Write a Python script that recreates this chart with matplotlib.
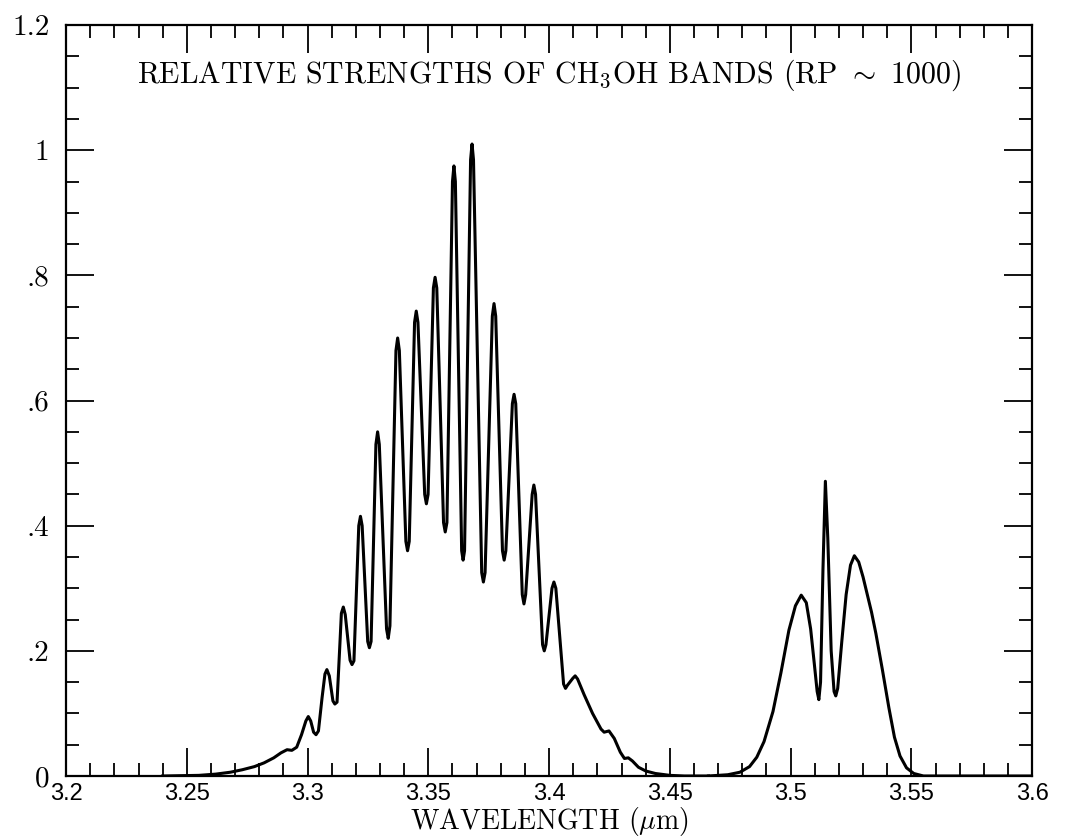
import matplotlib
matplotlib.use("Agg")
import matplotlib.pyplot as plt
from matplotlib.ticker import MultipleLocator

plt.rcParams["mathtext.fontset"] = "cm"
plt.rcParams["axes.formatter.use_mathtext"] = True

# CH3OH band profile (wavelength in um, relative strength)
wave_main = [3.240, 3.255, 3.262, 3.268, 3.273, 3.278, 3.282, 3.286, 3.289, 3.2915,
             3.2935, 3.2955, 3.2975, 3.2993, 3.3003, 3.3013, 3.3025, 3.3035, 3.3045, 3.3060,
             3.3072, 3.3080, 3.3090, 3.3105, 3.3113, 3.3122, 3.3135, 3.3140, 3.3148, 3.3156,
             3.3176, 3.3184, 3.3192, 3.3212, 3.3219, 3.3226, 3.3249, 3.3256, 3.3263, 3.3283,
             3.3290, 3.3297, 3.3327, 3.3334, 3.3341, 3.3366, 3.3373, 3.3380, 3.3407, 3.3414,
             3.3421, 3.3443, 3.3450, 3.3457, 3.3485, 3.3492, 3.3499, 3.3521, 3.3528, 3.3535,
             3.3563, 3.3570, 3.3577, 3.3600, 3.3606, 3.3612, 3.3638, 3.3644, 3.3650, 3.3675,
             3.3681, 3.3687, 3.3721, 3.3728, 3.3735, 3.3765, 3.3772, 3.3779, 3.3807, 3.3814,
             3.3821, 3.3848, 3.3855, 3.3862, 3.3889, 3.3896, 3.3903, 3.3930, 3.3937, 3.3944,
             3.3973, 3.3980, 3.3987, 3.4012, 3.4020, 3.4028, 3.4060, 3.4068, 3.4076, 3.4098,
             3.4108, 3.4118, 3.4145, 3.4180, 3.4215, 3.4228, 3.4248, 3.4270, 3.4295, 3.4312,
             3.4328, 3.4345, 3.4370, 3.4400, 3.4440, 3.4500, 3.4560, 3.4660]
flux_main = [0.000, 0.001, 0.003, 0.006, 0.010, 0.015, 0.021, 0.029, 0.037, 0.042,
             0.041, 0.046, 0.066, 0.088, 0.095, 0.088, 0.070, 0.066, 0.072, 0.125,
             0.163, 0.170, 0.160, 0.120, 0.115, 0.118, 0.220, 0.260, 0.270, 0.258,
             0.185, 0.178, 0.184, 0.400, 0.415, 0.400, 0.215, 0.205, 0.215, 0.530,
             0.550, 0.530, 0.235, 0.220, 0.240, 0.680, 0.700, 0.680, 0.375, 0.360,
             0.375, 0.725, 0.743, 0.725, 0.450, 0.435, 0.450, 0.780, 0.797, 0.780,
             0.405, 0.390, 0.405, 0.950, 0.975, 0.950, 0.360, 0.345, 0.360, 0.985,
             1.010, 0.985, 0.325, 0.310, 0.325, 0.735, 0.755, 0.735, 0.360, 0.345,
             0.360, 0.595, 0.610, 0.595, 0.290, 0.275, 0.290, 0.450, 0.465, 0.450,
             0.210, 0.200, 0.210, 0.300, 0.310, 0.300, 0.147, 0.140, 0.145, 0.156,
             0.160, 0.155, 0.130, 0.100, 0.075, 0.070, 0.072, 0.060, 0.038, 0.028,
             0.029, 0.024, 0.014, 0.008, 0.004, 0.001, 0.000, 0.000]

wave_second = [3.466, 3.474, 3.479, 3.483, 3.486, 3.489, 3.4927, 3.496, 3.4993, 3.5020,
               3.5044, 3.5065, 3.5083, 3.5098, 3.5110, 3.5117, 3.5124, 3.5134, 3.5144, 3.5154,
               3.5168, 3.5180, 3.5187, 3.5195, 3.5212, 3.5230, 3.5248, 3.5264, 3.5282, 3.5300,
               3.5335, 3.5353, 3.5380, 3.5407, 3.5430, 3.5453, 3.5480, 3.5510, 3.5550, 3.6000]
flux_second = [0.000, 0.002, 0.006, 0.015, 0.030, 0.055, 0.103, 0.165, 0.233, 0.272,
               0.289, 0.277, 0.235, 0.180, 0.135, 0.122, 0.150, 0.330, 0.471, 0.380,
               0.200, 0.135, 0.128, 0.140, 0.215, 0.290, 0.337, 0.352, 0.342, 0.318,
               0.262, 0.228, 0.170, 0.109, 0.062, 0.032, 0.013, 0.004, 0.000, 0.000]

x_ticks = [3.2, 3.25, 3.3, 3.35, 3.4, 3.45, 3.5, 3.55, 3.6]
x_labels = ["3.2", "3.25", "3.3", "3.35", "3.4", "3.45", "3.5", "3.55", "3.6"]
y_ticks = [0, 0.2, 0.4, 0.6, 0.8, 1.0, 1.2]
y_labels = ["0", ".2", ".4", ".6", ".8", "1", "1.2"]

fig = plt.figure(figsize=(10.74, 8.38), dpi=100)
ax = fig.add_axes([0.0615, 0.074, 0.8995, 0.896])

ax.plot(wave_main, flux_main, color="black", lw=2.2)
ax.plot(wave_second, flux_second, color="black", lw=2.2)

ax.set_xlim(3.2, 3.6)
ax.set_ylim(0, 1.2)

ax.set_xticks(x_ticks)
ax.set_xticklabels(x_labels, family="Liberation Sans", fontsize=17)
ax.set_yticks(y_ticks)
ax.set_yticklabels(y_labels, family="cmr10", fontsize=21)
ax.xaxis.set_minor_locator(MultipleLocator(0.01))
ax.yaxis.set_minor_locator(MultipleLocator(0.05))

ax.tick_params(which="both", direction="in", top=True, right=True, width=1.3, colors="black")
ax.tick_params(which="major", length=20)
ax.tick_params(which="minor", length=9.5)
ax.tick_params(axis="x", which="major", pad=5)
ax.tick_params(axis="y", which="major", pad=12)
for sp in ax.spines.values():
    sp.set_linewidth(1.6)

ax.set_xlabel(r"WAVELENGTH ($\mu$m)", family="cmr10", fontsize=20, labelpad=0)
ax.text(3.4, 1.12, r"RELATIVE STRENGTHS OF CH$_3$OH BANDS (RP $\sim$ 1000)",
        family="cmr10", fontsize=21.5, ha="center", va="center")

fig.savefig("out.png", dpi=100)
